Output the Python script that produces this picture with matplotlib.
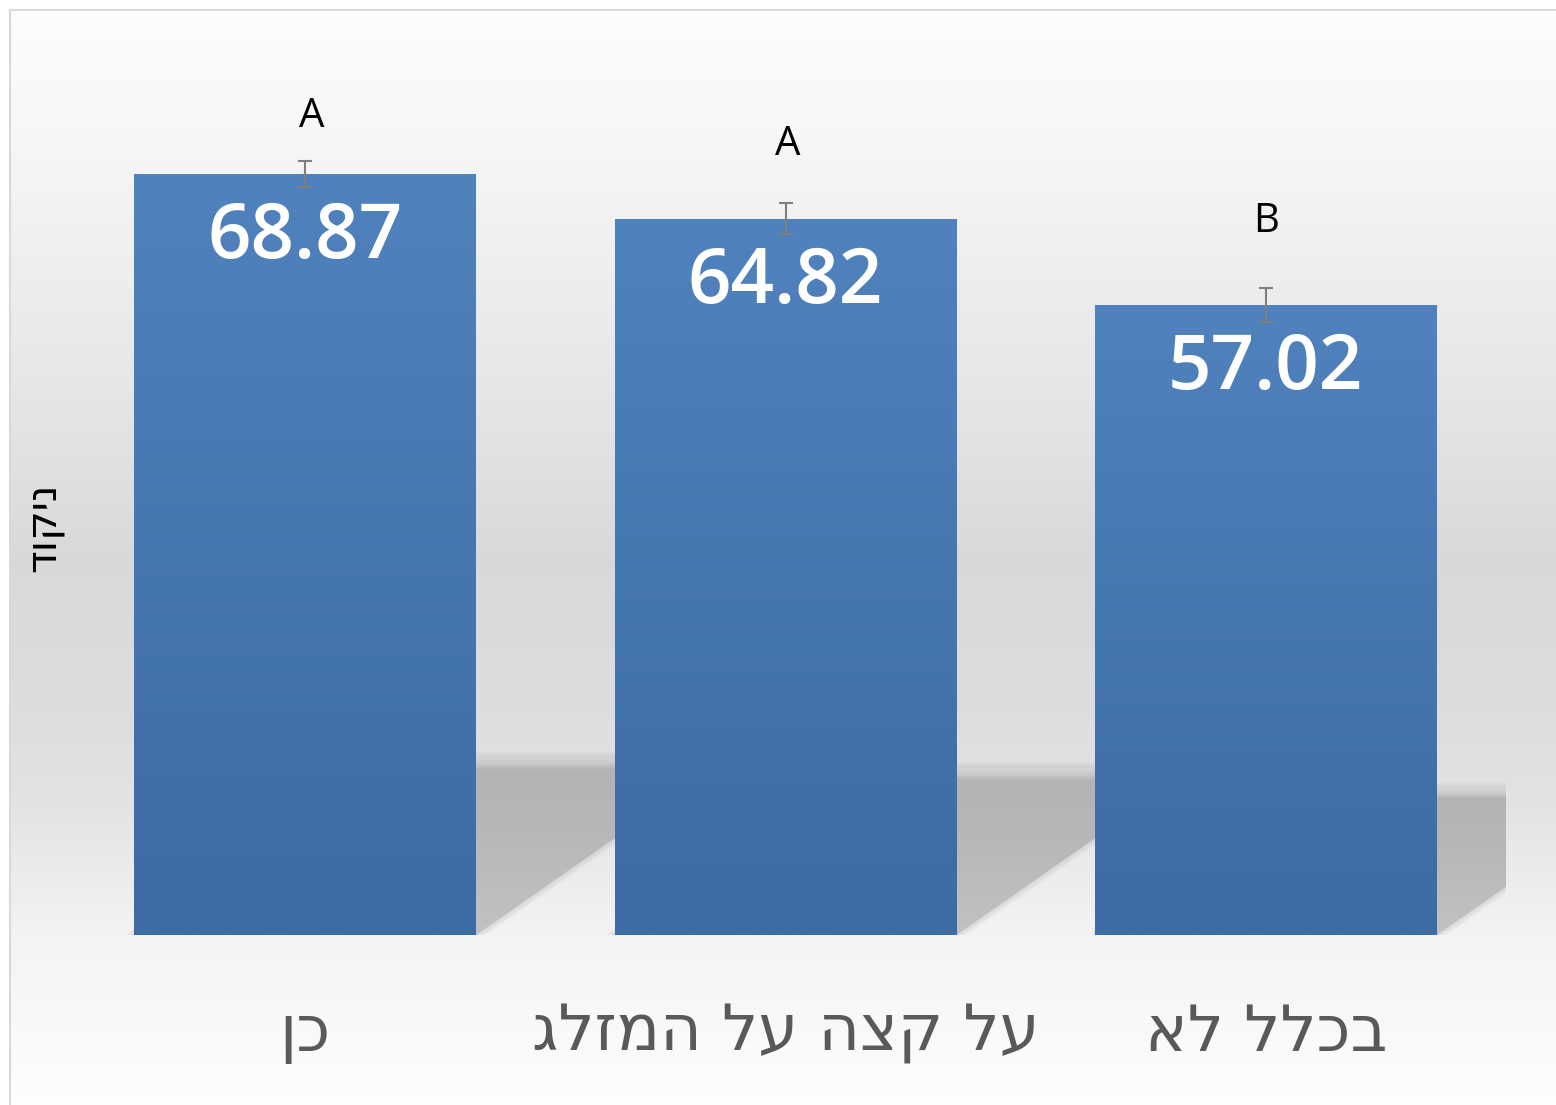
import numpy as np
from matplotlib import pyplot as plt
from matplotlib.patches import Polygon, Rectangle
from matplotlib.colors import LinearSegmentedColormap

# data
categories = ['כן', 'על קצה על המזלג', 'בכלל לא']
scores = [68.87, 64.82, 57.02]
errors = [1.2, 1.4, 1.5]
letters = ['A', 'A', 'B']
y_title = 'ניקוד'

W, H = 1556, 1105


def heb(s):
    # matplotlib has no bidi support, so reverse Hebrew strings
    return s[::-1]


def background(fig):
    bg = fig.add_axes([10 / W, 0, 1 - 10 / W, 1 - 10 / H], zorder=-5)
    stops_px = [10, 150, 400, 560, 700, 800, 935, 1105]
    stops_v = [0.99, 0.965, 0.90, 0.85, 0.865, 0.89, 0.955, 0.995]
    rows = np.arange(10, H)
    vals = np.interp(rows, stops_px, stops_v)
    img = np.repeat(vals[:, None, None], 3, axis=2)
    img = np.repeat(img, 4, axis=1)
    bg.imshow(img, aspect='auto', interpolation='nearest')
    bg.axis('off')
    fig.patches.append(Rectangle((10 / W, -0.01), 1, 1 - 10 / H + 0.01,
                                 transform=fig.transFigure, fill=False,
                                 edgecolor='#d9d9d9', lw=1.5, zorder=-4))


def main():
    fig = plt.figure(figsize=(W / 100, H / 100), dpi=100)
    fig.patch.set_facecolor('white')
    background(fig)

    ax = fig.add_axes([65 / W, 170 / H, 1441 / W, 884 / H])
    ax.set_facecolor('none')
    x = np.arange(len(categories))
    width = 0.712

    bars = ax.bar(x, scores, width=width, color='#4a7bb7', zorder=3)

    bar_cmap = LinearSegmentedColormap.from_list('bar', ['#3d6ba3', '#5082be'])
    shadow_cmap = LinearSegmentedColormap.from_list(
        'sh', [(0, '#c2c2c2'), (0.6, '#b7b7b7'), (0.93, '#b3b3b3'),
               (0.96, '#c8c8c8'), (1, '#d6d6d6')])
    grad = np.linspace(0, 1, 256)[:, None]

    for b in bars:
        x0, x1 = b.get_x(), b.get_x() + b.get_width()
        h = b.get_height()
        # floor shadow behind the bar
        hs = 0.233 * h
        dx = hs * 0.0329
        shp = Polygon([(x0, 0), (x1, 0), (x1 + dx, hs), (x0 + dx, hs)],
                      closed=True, facecolor='none', edgecolor='none')
        ax.add_patch(shp)
        im = ax.imshow(grad, cmap=shadow_cmap, extent=[x0, x1 + dx, 0, hs],
                       origin='lower', aspect='auto', zorder=1)
        im.set_clip_path(shp)
        for k in range(1, 5):
            soft = Polygon([(x0, 0), (x1, 0), (x1 + dx, hs), (x0 + dx, hs)],
                           closed=True, facecolor='none',
                           edgecolor='#bdbdbd', lw=2 * k, alpha=0.12,
                           zorder=0.9)
            ax.add_patch(soft)
        # bar gradient
        bim = ax.imshow(grad, cmap=bar_cmap, extent=[x0, x1, 0, h],
                        origin='lower', aspect='auto', zorder=3.1)
        bim.set_clip_path(b)

    ax.errorbar(x, scores, yerr=errors, fmt='none', ecolor='#7f7f7f',
                elinewidth=1.5, capsize=5, capthick=1.5, zorder=5)

    letter_gap = [4.0, 5.3, 6.0]
    letter_shift = [0.014, 0.005, 0.0]
    for i, v in enumerate(scores):
        ax.text(x[i], v - 5.8, f'{v:.2f}', ha='center', va='center',
                color='white', fontsize=55, weight='semibold',
                family=['Open Sans', 'DejaVu Sans'], zorder=6)
        ax.text(x[i] + letter_shift[i], v + errors[i] + letter_gap[i],
                letters[i], ha='center', va='center', fontsize=29,
                color='black', family=['Open Sans', 'DejaVu Sans'])

    ax.set_xlim(-0.5, 2.5)
    ax.set_ylim(0, 80)
    ax.set_xticks(x)
    ax.set_xticklabels([heb(c) for c in categories], fontsize=46,
                       color='#595959', family=['DejaVu Sans'])
    ax.tick_params(axis='x', length=0, pad=48)
    ax.set_yticks([])
    for s in ax.spines.values():
        s.set_visible(False)
    ax.set_ylabel(heb(y_title), fontsize=30, color='black',
                  family=['DejaVu Sans'])
    ax.yaxis.set_label_coords(-0.001, 0.4615)

    fig.savefig('out.png', dpi=100)


if __name__ == '__main__':
    main()
